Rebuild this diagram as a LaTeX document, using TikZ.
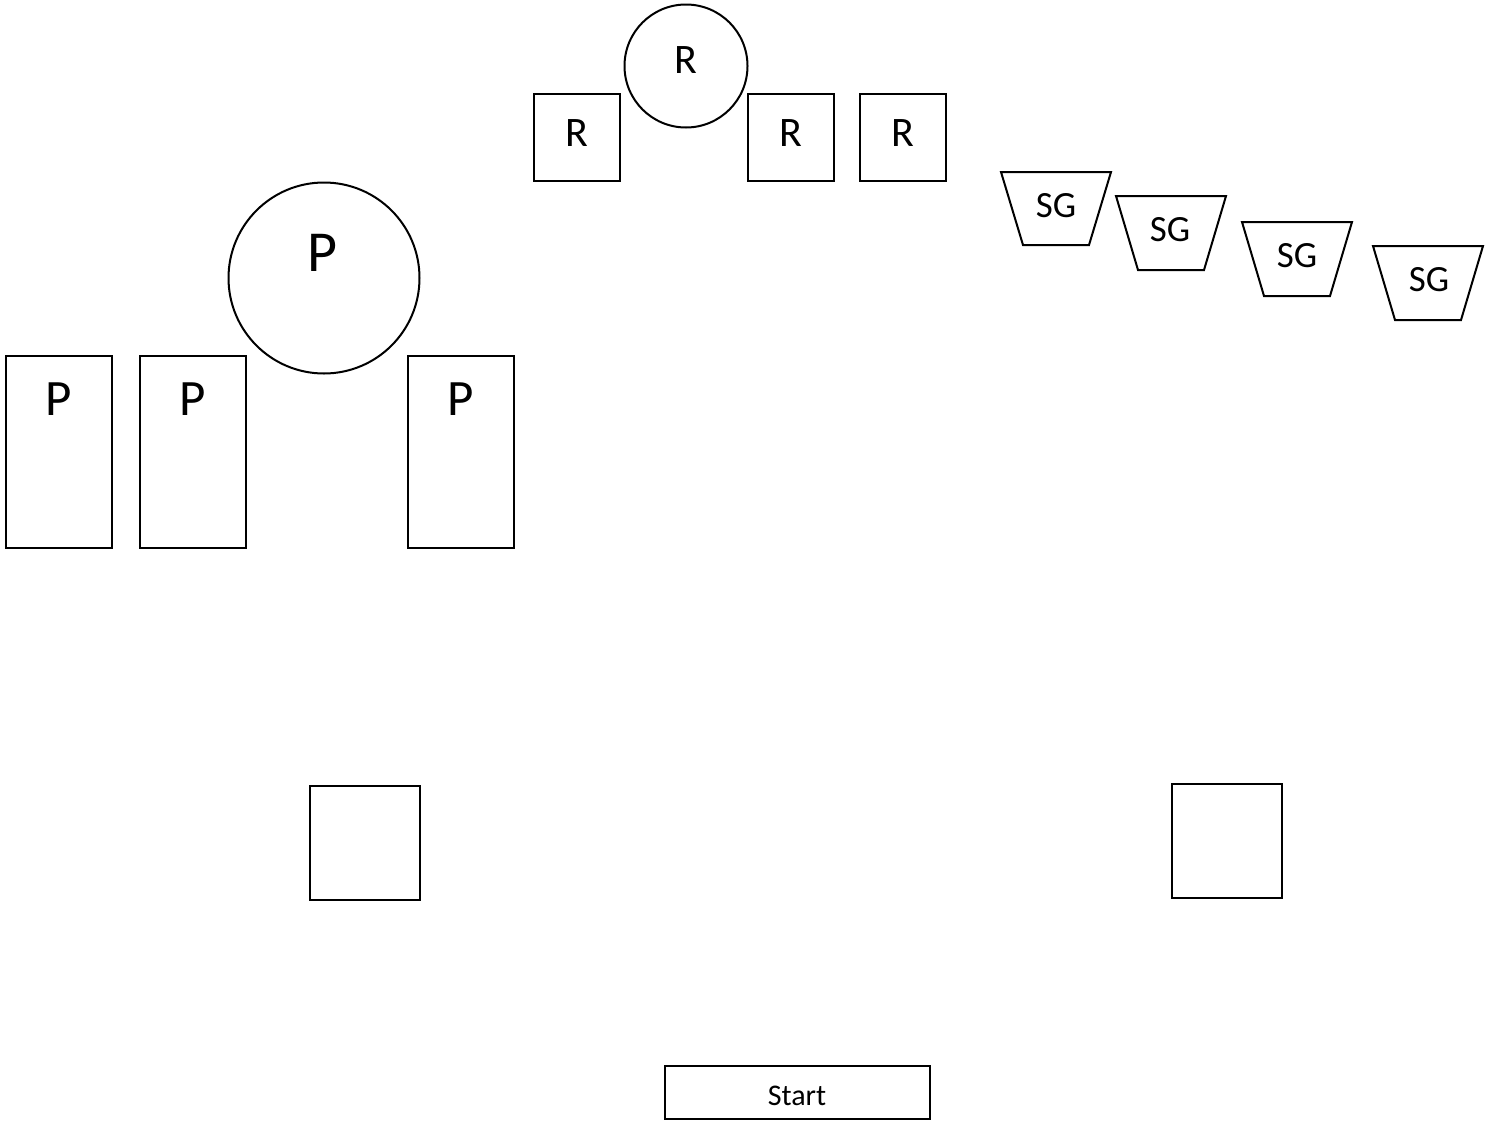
\documentclass[tikz,border=0pt]{standalone}
\usepackage{fontspec}
\setmainfont{Carlito}
\begin{document}
\begin{tikzpicture}[x=1pt,y=-1pt,
  shp/.style={draw=black,line width=2pt,inner sep=0pt,outer sep=0pt},
  box/.style={shp,rectangle,anchor=north west},
  trap/.style={line width=2pt,line join=miter},
  txt/.style={inner sep=0pt,anchor=center}]
\useasboundingbox (0,0) rectangle (1494,1122);
% R group
\node[shp,circle,minimum size=123pt] (rc) at (686,66) {};
\node[txt,font=\fontsize{42}{46}\selectfont] (rct) at (686,60) {R};
\node[box,minimum width=86pt,minimum height=87pt] (r1) at (534,94) {};
\node[box,minimum width=86pt,minimum height=87pt] (r2) at (748,94) {};
\node[box,minimum width=86pt,minimum height=87pt] (r3) at (860,94) {};
\node[txt,font=\fontsize{42}{46}\selectfont] (r1t) at (577,133) {R};
\node[txt,font=\fontsize{42}{46}\selectfont] (r2t) at (791,133) {R};
\node[txt,font=\fontsize{42}{46}\selectfont] (r3t) at (903,133) {R};
% SG trapezoids
\draw[trap] (1001,172) -- (1111,172) -- (1089,245) -- (1023,245) -- cycle;
\draw[trap] (1116,196) -- (1226,196) -- (1204,270) -- (1138,270) -- cycle;
\draw[trap] (1242,222) -- (1352,222) -- (1330,296) -- (1264,296) -- cycle;
\draw[trap] (1373,246) -- (1483,246) -- (1461,320) -- (1395,320) -- cycle;
\node[txt,font=\fontsize{37}{40}\selectfont] (sg1) at (1056,206) {SG};
\node[txt,font=\fontsize{37}{40}\selectfont] (sg2) at (1170,230) {SG};
\node[txt,font=\fontsize{37}{40}\selectfont] (sg3) at (1297,256) {SG};
\node[txt,font=\fontsize{37}{40}\selectfont] (sg4) at (1429,280) {SG};
% P group
\node[shp,circle,minimum size=191pt] (pc) at (324,278) {};
\node[txt,font=\fontsize{58}{62}\selectfont] (pct) at (322,253) {P};
\node[box,minimum width=106pt,minimum height=192pt] (p1) at (6,356) {};
\node[box,minimum width=106pt,minimum height=192pt] (p2) at (140,356) {};
\node[box,minimum width=106pt,minimum height=192pt] (p3) at (408,356) {};
\node[txt,font=\fontsize{51}{56}\selectfont] (p1t) at (59,399) {P};
\node[txt,font=\fontsize{51}{56}\selectfont] (p2t) at (193,399) {P};
\node[txt,font=\fontsize{51}{56}\selectfont] (p3t) at (461,399) {P};
% empty boxes
\node[box,minimum width=110pt,minimum height=114pt] (e1) at (310,786) {};
\node[box,minimum width=110pt,minimum height=114pt] (e2) at (1172,784) {};
% Start
\node[box,minimum width=265pt,minimum height=53pt] (st) at (665,1066) {};
\node[txt,font=\fontsize{30}{34}\selectfont] (stt) at (797,1096) {Start};
\end{tikzpicture}
\end{document}
